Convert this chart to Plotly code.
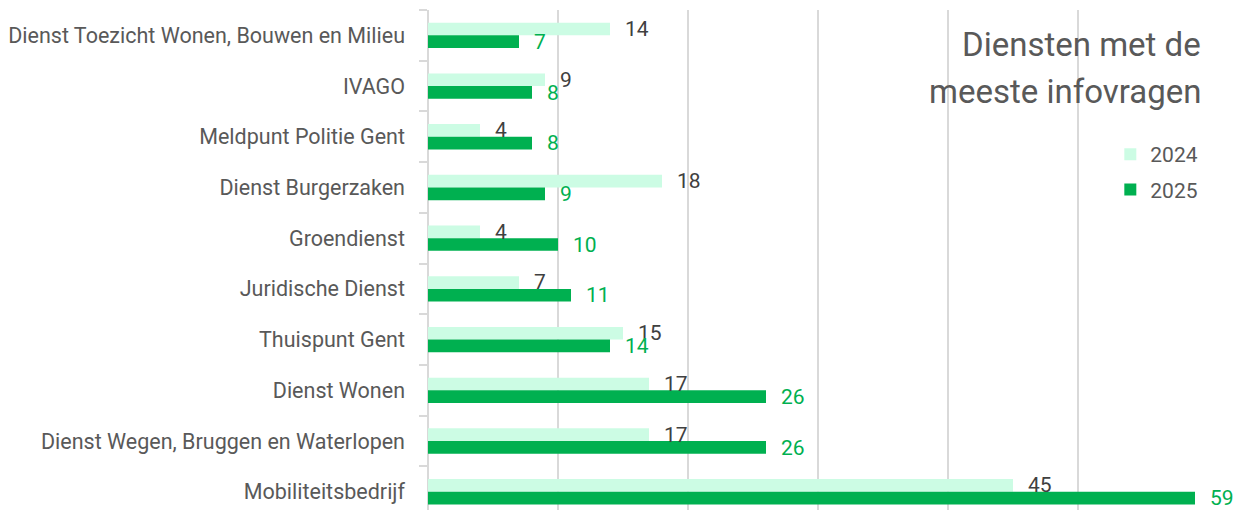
import plotly.graph_objects as go

categories = [
    "Dienst Toezicht Wonen, Bouwen en Milieu",
    "IVAGO",
    "Meldpunt Politie Gent",
    "Dienst Burgerzaken",
    "Groendienst",
    "Juridische Dienst",
    "Thuispunt Gent",
    "Dienst Wonen",
    "Dienst Wegen, Bruggen en Waterlopen",
    "Mobiliteitsbedrijf",
]
values_2024 = [14, 9, 4, 18, 4, 7, 15, 17, 17, 45]
values_2025 = [7, 8, 8, 9, 10, 11, 14, 26, 26, 59]
series_names = ["2024", "2025"]
title_lines = ["Diensten met de", "meeste infovragen"]

FONT = "Roboto"
C24 = "#CCFCE4"
C25 = "#00B050"
GRID = "#D9D9D9"
TXT = "#595959"

fig = go.Figure()
fig.add_trace(go.Bar(y=categories, x=values_2024, name=series_names[0], orientation="h",
                     marker=dict(color=C24, line=dict(width=0)), legendgroup="a"))
fig.add_trace(go.Bar(y=categories, x=values_2025, name=series_names[1], orientation="h",
                     marker=dict(color=C25, line=dict(width=0)), legendgroup="b"))

ann = []
for cat, v in zip(categories, values_2024):
    ann.append(dict(x=v, y=cat, xref="x", yref="y", text=str(v), showarrow=False,
                    xanchor="left", yanchor="middle", xshift=13, yshift=6.5,
                    font=dict(family=FONT, size=21, color="#404040")))
for cat, v in zip(categories, values_2025):
    ann.append(dict(x=v, y=cat, xref="x", yref="y", text=str(v), showarrow=False,
                    xanchor="left", yanchor="middle", xshift=13, yshift=-6.5,
                    font=dict(family=FONT, size=21, color=C25)))
ann.append(dict(x=0.9936, y=0.93, xref="paper", yref="paper", text=title_lines[0],
                showarrow=False, xanchor="right", yanchor="middle",
                font=dict(family=FONT, size=33, color=TXT)))
ann.append(dict(x=0.9936, y=0.838, xref="paper", yref="paper", text=title_lines[1],
                showarrow=False, xanchor="right", yanchor="middle",
                font=dict(family=FONT, size=33, color=TXT)))

fig.update_layout(
    width=1237, height=510,
    margin=dict(l=428, r=29, t=10, b=0, autoexpand=False),
    paper_bgcolor="white", plot_bgcolor="white",
    barmode="group", bargap=0.5, bargroupgap=0,
    font=dict(family=FONT, size=21, color=TXT),
    annotations=ann,
    legend=dict(x=0.994, xanchor="right", y=0.752, yanchor="top",
                font=dict(family=FONT, size=21, color=TXT),
                traceorder="grouped", tracegroupgap=5, itemwidth=30,
                bgcolor="rgba(0,0,0,0)"),
    xaxis=dict(range=[0, 60], dtick=10, showgrid=True, gridcolor=GRID, gridwidth=2,
               showticklabels=False, zeroline=True, zerolinecolor=GRID, zerolinewidth=2,
               showline=False, fixedrange=True),
    yaxis=dict(autorange=False, range=[9.36, -0.5], type="category",
               categoryorder="array", categoryarray=categories,
               ticks="outside", tickson="boundaries", ticklen=8, tickcolor=GRID, tickwidth=2,
               showgrid=False, showline=False, zeroline=False, fixedrange=True,
               ticklabelstandoff=22,
               tickfont=dict(family=FONT, size=21.5, color=TXT)),
)

fig.write_html("out.html", config={"displayModeBar": False},
               post_script="document.body.style.margin='0';document.body.style.overflow='hidden';")
